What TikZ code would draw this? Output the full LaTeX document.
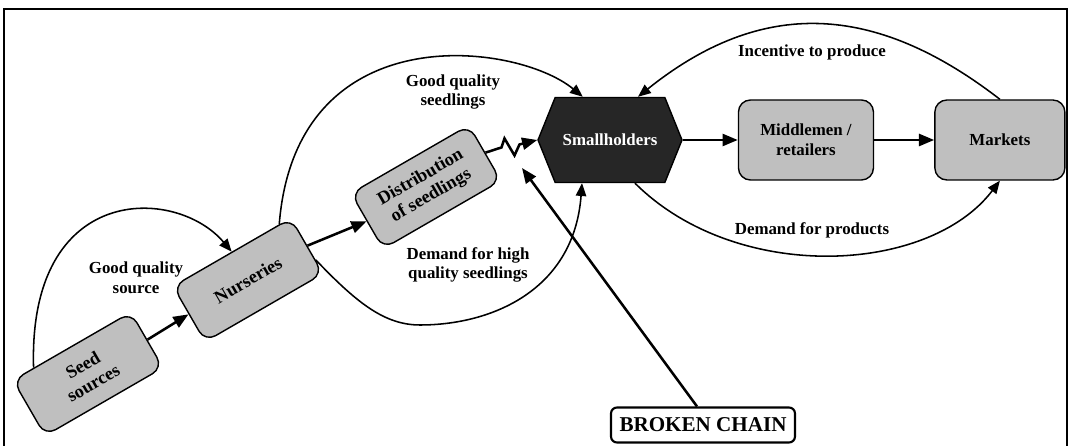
\documentclass[tikz,border=0pt]{standalone}
\usepackage{fontspec}
\setmainfont{Liberation Serif}
\usetikzlibrary{shapes.geometric, shapes.symbols, arrows.meta, positioning, calc}
\tikzstyle{box} = [rectangle, rounded corners=0.3cm, minimum width=3.25cm, minimum height=1.45cm, align=center, draw=black, line width=1pt, fill=black!25, font=\bfseries\fontsize{12}{14}\selectfont]
\tikzstyle{tilted} = [box, rotate=30, minimum width=3.4cm, minimum height=1.6cm, font=\bfseries\fontsize{13}{15}\selectfont]
\tikzstyle{hub} = [signal, signal to=west and east, signal pointer angle=136, minimum width=3.6cm, minimum height=2.125cm, draw=black, line width=1pt, fill=black!85, text=white, font=\bfseries\fontsize{12}{14}\selectfont]
\tikzstyle{note} = [align=center, font=\bfseries\fontsize{12}{14}\selectfont]
\tikzstyle{arrow} = [line width=1.8pt, -{Triangle[length=3.8mm,width=3mm]}]
\tikzstyle{flow} = [line width=1.1pt, -{Triangle[length=3.2mm,width=2.6mm]}]

\begin{document}
\begin{tikzpicture}[node distance=1.5cm]

        \useasboundingbox (0,0) rectangle (26.75,11.15);
        \draw [line width=1pt] (0.1,0) -- (0.1,10.925) -- (26.675,10.925) -- (26.675,0);

        % Supply side
        \node (seed) [tilted] at (2.2,1.8) {Seed\\sources};
        \node (nurs) [tilted] at (6.2,4.15) {Nurseries};
        \node (dist) [tilted] at (10.65,6.475) {Distribution\\of seedlings};

        % Demand side
        \node (small) [hub] at (15.25,7.65) {Smallholders};
        \node (middle) [box, minimum width=3.375cm, minimum height=2cm, right=1.375cm of small] {Middlemen /\\retailers};
        \node (markets) [box, minimum height=2cm, right=1.5cm of middle] {Markets};

        \node (chain) [draw, rounded corners=0.15cm, line width=1.5pt, fill=white, minimum width=4.6cm, minimum height=0.875cm, inner sep=0.1cm, font=\bfseries\fontsize{15}{17}\selectfont] at (17.575,0.525) {BROKEN CHAIN};
        \coordinate (brk) at (13.05,6.95);

        % Labels
        \node (srcnote) [note] at (3.4,4.2) {Good quality\\source};
        \node (sdlnote) [note] at (11.325,8.85) {Good quality\\seedlings};
        \node (demnote) [note] at (11.7,4.525) {Demand for high\\quality seedlings};
        \node (incnote) [note] at (20.3,9.85) {Incentive to produce};
        \node (prdnote) [note] at (20.3,5.4) {Demand for products};

        % Chain
        \draw [arrow] (seed.east) -- (nurs.west);
        \draw [arrow] (nurs.east) -- (dist.west);
        \draw [arrow] (dist.east) -- ++(0.4,0.13) -- ++(0.075,0.225) -- ++(0.25,-0.425) -- ++(0.125,0.275) -- (small.west);
        \draw [arrow] (small.east) -- (middle.west);
        \draw [arrow] (middle.east) -- (markets.west);
        \draw [arrow] ([xshift=-0.15cm]chain.north) -- (brk);

        % Loops
        \draw [flow] ($(seed.north west)!0.18!(seed.north east)$) .. controls (0.7,6.6) and (4.4,6.5) .. (nurs.north);
        \draw [flow] ($(nurs.north east)!0.1!(nurs.north west)$) .. controls (7.4,10.8) and (12.9,10.1) .. ([xshift=-0.68cm]small.north);
        \draw [flow] ($(nurs.south east)!0.25!(nurs.north east)$) .. controls (8.9,3.6) and (9.6,3.025) .. (10.5,3.025) .. controls (12.3,3.025) and (14.35,3.9) .. ([xshift=-0.7cm]small.south);
        \draw [flow] (markets.north) .. controls (21.85,11.1) and (19.03,11.2) .. ([xshift=0.7cm]small.north);
        \draw [flow] ([xshift=0.625cm]small.south) .. controls (18.4,4.055) and (23.21,4.28) .. (markets.south);

\end{tikzpicture}
\end{document}
